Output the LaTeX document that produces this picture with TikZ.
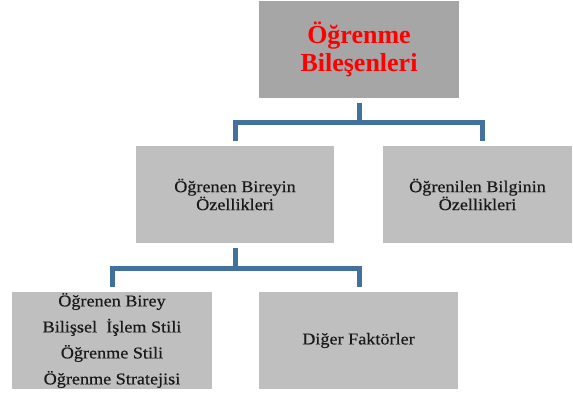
\documentclass[tikz,border=0pt]{standalone}
\usepackage{fontspec}
\usepackage{graphicx}
\setmainfont{Liberation Serif}
\newfontfamily\bodyfont{Liberation Serif}[FakeBold=0.4]
\definecolor{busblue}{RGB}{65,113,156}
\definecolor{boxgray}{RGB}{191,191,191}
\definecolor{topgray}{RGB}{166,166,166}
\newcommand\wline[1]{\scalebox{1.1}[1]{#1}}

\begin{document}
\begin{tikzpicture}[x=1pt,y=-1pt,
  box/.style={fill=boxgray,minimum height=97pt,inner sep=0pt,align=center,
    text=black!90,font=\bodyfont\fontsize{16.5}{15}\selectfont},
  link/.style={draw=busblue,line width=5pt}]
  \useasboundingbox (0,0) rectangle (573,396);
  % boxes
  \node[box,fill=topgray,minimum width=200pt,text=red,
    font=\bfseries\fontsize{26}{28}\selectfont] (root) at (359,49.5) {Öğrenme\\Bileşenleri};
  \node[box,minimum width=198pt] (learner) at (235,194.5)
    {\wline{Öğrenen Bireyin}\\\wline{Özellikleri}};
  \node[box,minimum width=189pt] (knowledge) at (477.5,194.5)
    {\wline{Öğrenilen Bilginin}\\\wline{Özellikleri}};
  \node[box,minimum width=200pt,font=\bodyfont\fontsize{16.5}{26}\selectfont] (profile) at (112,340.5)
    {\wline{Öğrenen Birey}\\\wline{Bilişsel\ \ İşlem Stili}\\\wline{Öğrenme Stili}\\\wline{Öğrenme Stratejisi}};
  \node[box,minimum width=199pt] (other) at (358.5,340.5) {\wline{Diğer Faktörler}};
  % connectors
  \coordinate (busA) at (0,122.5);
  \coordinate (busB) at (0,268.5);
  \draw[link] ([yshift=-5pt]root.south) -- (root.south |- busA);
  \draw[link] ([yshift=5pt]learner.north) |- ([xshift=5pt]knowledge.north |- busA)
    -- ([xshift=5pt,yshift=5pt]knowledge.north);
  \draw[link] ([yshift=-5pt]learner.south) -- (learner.south |- busB);
  \draw[link] ([yshift=5pt]profile.north) |- ([xshift=0.5pt]other.north |- busB)
    -- ([xshift=0.5pt,yshift=5pt]other.north);
\end{tikzpicture}
\end{document}
